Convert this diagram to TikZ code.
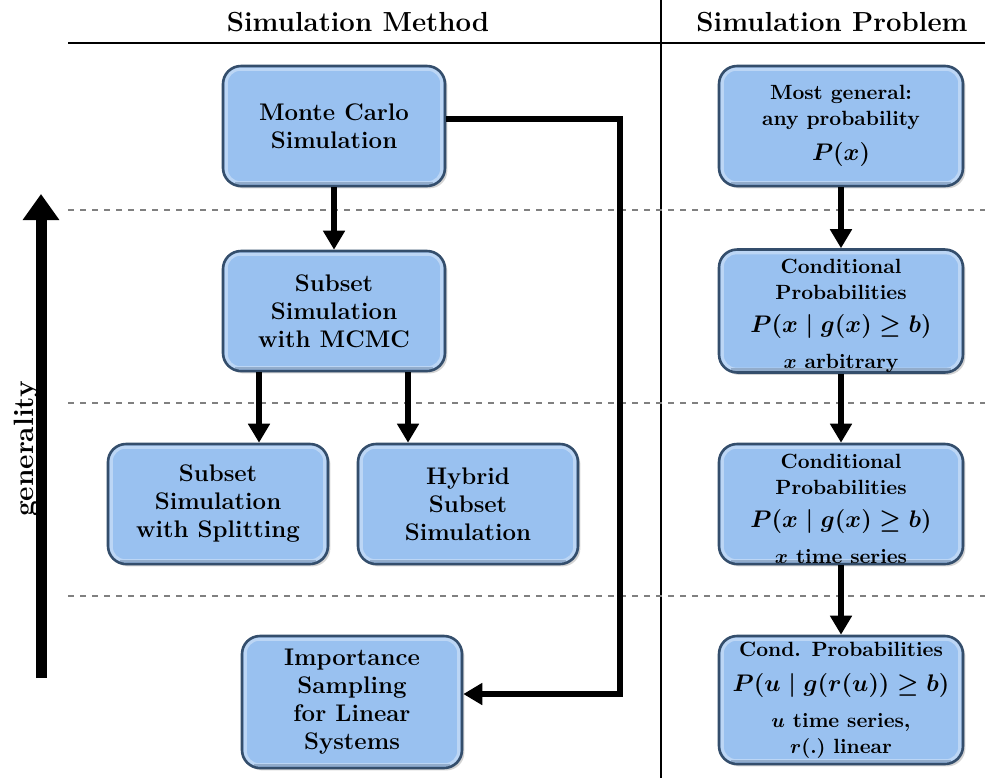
\documentclass[tikz,border=0pt]{standalone}
\usepackage{amsmath,amssymb}
\usetikzlibrary{arrows.meta,shadows}

\definecolor{boxfill}{RGB}{153,193,240}
\definecolor{boxedge}{RGB}{52,78,108}

\tikzset{
  method/.style={draw=boxedge, line width=1.3pt, fill=boxfill, rounded corners=9pt,
    drop shadow={opacity=.35, shadow xshift=1.2pt, shadow yshift=-1.2pt},
    path picture={
      \draw[white, opacity=.35, line width=1.6pt, rounded corners=7pt]
        ([shift={(1.6pt,-1.6pt)}]path picture bounding box.north west) rectangle
        ([shift={(-1.6pt,1.6pt)}]path picture bounding box.south east);
      \draw[boxedge, opacity=.3, line width=1.2pt]
        ([shift={(6pt,1.4pt)}]path picture bounding box.south west) --
        ([shift={(-6pt,1.4pt)}]path picture bounding box.south east);},
    minimum width=111pt, minimum height=60pt, inner sep=0pt, align=center,
    font=\fontsize{12}{14}\selectfont\bfseries\boldmath},
  problem/.style={method, minimum width=122pt,
    font=\fontsize{10.3}{12.8}\selectfont\bfseries\boldmath},
  flow/.style={line width=3.4pt, -{Triangle[length=9.5pt,width=10.5pt]}},
  level/.style={gray, dashed, line width=.6pt},
  heading/.style={font=\fontsize{13.8}{16}\selectfont\bfseries}
}
\newcommand{\topstrut}{\rule{0pt}{12pt}}

\begin{document}
\begin{tikzpicture}[x=.5pt, y=-.5pt]
	\useasboundingbox (0,0) rectangle (985,778);

	% frame
	\draw[line width=.6pt] (68,43) -- (985,43);
	\draw[line width=.6pt] (661,0) -- (661,778);
	\foreach \ly in {210,403,596}
		\draw[level] (68,\ly) -- (985,\ly);

	\node[heading] (hmeth) at (358,22) {Simulation Method};
	\node[heading] (hprob) at (832,22) {Simulation Problem};

	% generality axis
	\coordinate (gbot) at (41,678);
	\coordinate (gtop) at (41,194);
	\draw[line width=5.5pt, -{Triangle[length=13pt,width=17.5pt]}] (gbot) -- (gtop);
	\node[rotate=90, font=\fontsize{14}{16}\selectfont\bfseries] (gen) at (27,449) {generality};

	% methods
	\node[method] (mc)    at (334,126) {Monte Carlo\\Simulation};
	\node[method] (mcmc)  at (334,311) {Subset\\Simulation\\with MCMC};
	\node[method, minimum width=110pt] (split) at (218,504) {Subset\\Simulation\\with Splitting};
	\node[method, minimum width=110pt] (hyb)   at (468,504) {Hybrid\\Subset\\Simulation};
	\node[method, minimum width=110pt, minimum height=66pt] (isls) at (352,702) {Importance\\Sampling\\for Linear\\Systems};

	% problems
	\node[problem] (pgen)  at (841,126) {Most general:\\any probability\\[5pt] {\large $P(x)$}};
	\node[problem] (pcond) at (841,311) {\topstrut Conditional\\Probabilities\\[4pt] {\large $P(x \mid g(x) \geq b)$}\\[5pt] $x$ arbitrary};
	\node[problem] (pts)   at (841,504) {\topstrut Conditional\\Probabilities\\[4pt] {\large $P(x \mid g(x) \geq b)$}\\[5pt] $x$ time series};
	\node[problem, minimum height=64pt] (plin) at (841,700) {Cond. Probabilities\\[5pt] {\large $P(u \mid g(r(u)) \geq b)$}\\[5pt] $u$ time series,\\ $r(.)$ linear};

	% connections
	\coordinate (lsplit) at (259,0);
	\coordinate (lhyb) at (408,0);
	\draw[flow] (mc) -- (mcmc);
	\draw[flow] (mcmc.south -| lsplit) -- (split.north -| lsplit);
	\draw[flow] (mcmc.south -| lhyb) -- (hyb.north -| lhyb);
	\coordinate (detour) at (620,400);
	\draw[flow] ([yshift=3.5pt]mc.east) -| (detour) |- ([yshift=4pt]isls.east);

	\draw[flow] (pgen) -- (pcond);
	\draw[flow] (pcond) -- (pts);
	\draw[flow] (pts) -- (plin);
\end{tikzpicture}
\end{document}
